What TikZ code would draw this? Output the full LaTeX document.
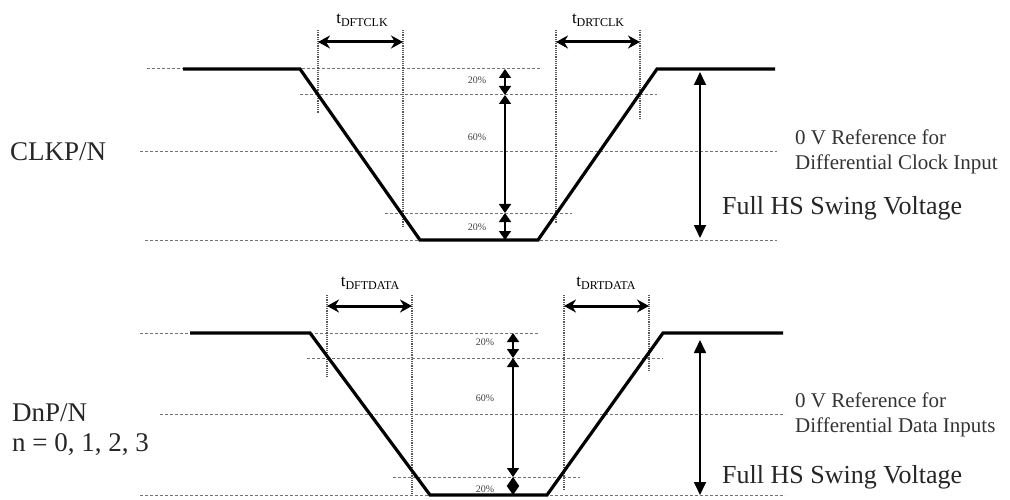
\documentclass[tikz,border=0pt]{standalone}
\usepackage{fontspec}
\setmainfont{Liberation Serif}
\usetikzlibrary{arrows.meta}

\begin{document}
\begin{tikzpicture}[x=1pt,y=-1pt,
  ref/.style={black!55, densely dashed, line width=1pt},
  guide/.style={black!65, densely dotted, line width=1.2pt},
  wave/.style={line width=3.2pt},
  tarrow/.style={{Stealth[length=12pt,width=13pt]}-{Stealth[length=12pt,width=13pt]}, line width=3pt},
  pct/.style={{Triangle[length=9pt,width=12pt]}-{Triangle[length=9pt,width=12pt]}, line width=1.6pt},
  swing/.style={{Triangle[length=13pt,width=12pt]}-{Triangle[length=13pt,width=12pt]}, line width=1.7pt},
  small/.style={font=\fontsize{10}{12}\selectfont, text=black!75, inner sep=0pt},
  big/.style={font=\fontsize{27}{30}\selectfont, text=black!85, anchor=west, inner sep=0pt},
  note/.style={font=\fontsize{21}{25}\selectfont, text=black!80, anchor=west, align=left, inner sep=0pt}]
\useasboundingbox (0,0) rectangle (1010,500);

% CLKP/N
\draw[ref] (147,69)--(540,69);
\draw[ref] (300,95)--(657,95);
\draw[ref] (140,152)--(777,152);
\draw[ref] (385,213)--(572,213);
\draw[ref] (145,240)--(777,240);
\draw[guide] (318,30)--(318,113);
\draw[guide] (403,30)--(403,227);
\draw[guide] (556,30)--(556,223);
\draw[guide] (640,30)--(640,120);
\coordinate (c1) at (183,69);
\coordinate (c2) at (300,69);
\coordinate (c3) at (420,240);
\coordinate (c4) at (538,240);
\coordinate (c5) at (657,69);
\coordinate (c6) at (775,69);
\draw[wave] (c1)--(c2)--(c3)--(c4)--(c5)--(c6);
\coordinate (cf1) at (318,42);
\coordinate (cf2) at (403,42);
\coordinate (cr1) at (556,42);
\coordinate (cr2) at (640,42);
\draw[tarrow] (cf1)--(cf2);
\draw[tarrow] (cr1)--(cr2);
\node (tfclk) at (362,20) {\fontsize{17}{17}\selectfont t\raisebox{-3pt}{\fontsize{12}{12}\selectfont DFTCLK}};
\node (trclk) at (598,20) {\fontsize{17}{17}\selectfont t\raisebox{-3pt}{\fontsize{12}{12}\selectfont DRTCLK}};
\coordinate (cp0) at (505,69);
\coordinate (cp1) at (505,95);
\coordinate (cp2) at (505,213);
\coordinate (cp3) at (505,240);
\draw[pct] (cp0)--(cp1);
\draw[pct] (cp1)--(cp2);
\draw[pct] (cp2)--(cp3);
\node[small] (cpa) at (477,80) {20\%};
\node[small] (cpb) at (477,137) {60\%};
\node[small] (cpc) at (477,227) {20\%};
\coordinate (cs1) at (700,72);
\coordinate (cs2) at (700,238);
\draw[swing] (cs1)--(cs2);
\node[big] (clk) at (10,152) {CLKP/N};
\node[note] (clkref) at (795,152) {0 V Reference for\\Differential Clock Input};
\node[big, font=\fontsize{26}{30}\selectfont] (clkswing) at (722,208) {Full HS Swing Voltage};

% DnP/N
\draw[ref] (140,333)--(540,333);
\draw[ref] (307,358)--(663,358);
\draw[ref] (160,414)--(785,414);
\draw[ref] (393,477)--(580,477);
\draw[ref] (140,495)--(785,495);
\draw[guide] (327,295)--(327,377);
\draw[guide] (412,295)--(412,495);
\draw[guide] (564,295)--(564,490);
\draw[guide] (649,295)--(649,370);
\coordinate (d1) at (190,333);
\coordinate (d2) at (310,333);
\coordinate (d3) at (430,495);
\coordinate (d4) at (547,495);
\coordinate (d5) at (663,333);
\coordinate (d6) at (783,333);
\draw[wave] (d1)--(d2)--(d3)--(d4)--(d5)--(d6);
\coordinate (df1) at (327,306);
\coordinate (df2) at (412,306);
\coordinate (dr1) at (564,306);
\coordinate (dr2) at (649,306);
\draw[tarrow] (df1)--(df2);
\draw[tarrow] (dr1)--(dr2);
\node (tfdata) at (370,283) {\fontsize{17}{17}\selectfont t\raisebox{-3pt}{\fontsize{12}{12}\selectfont DFTDATA}};
\node (trdata) at (606,283) {\fontsize{17}{17}\selectfont t\raisebox{-3pt}{\fontsize{12}{12}\selectfont DRTDATA}};
\coordinate (dp0) at (513,333);
\coordinate (dp1) at (513,358);
\coordinate (dp2) at (513,477);
\coordinate (dp3) at (513,495);
\draw[pct] (dp0)--(dp1);
\draw[pct] (dp1)--(dp2);
\draw[pct] (dp2)--(dp3);
\node[small] (dpa) at (485,342) {20\%};
\node[small] (dpb) at (485,398) {60\%};
\node[small] (dpc) at (485,489) {20\%};
\coordinate (ds1) at (700,340);
\coordinate (ds2) at (700,495);
\draw[swing] (ds1)--(ds2);
\node[big] (dat) at (12,413) {DnP/N};
\node[big] (datn) at (12,445) {n = 0, 1, 2, 3};
\node[note] (datref) at (795,415) {0 V Reference for\\Differential Data Inputs};
\node[big, font=\fontsize{26}{30}\selectfont] (datswing) at (722,477) {Full HS Swing Voltage};
\end{tikzpicture}
\end{document}
